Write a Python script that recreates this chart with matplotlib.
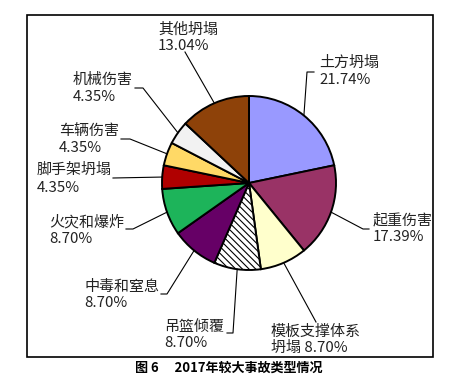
import matplotlib
matplotlib.use('Agg')
import matplotlib.pyplot as plt
import numpy as np
from matplotlib.patches import Rectangle
from matplotlib.lines import Line2D

plt.rcParams['font.family'] = ['Noto Sans CJK SC', 'DejaVu Sans']
plt.rcParams['hatch.linewidth'] = 0.8

# ---- data ----
categories = ['土方坍塌', '起重伤害', '模板支撑体系坍塌', '吊篮倾覆', '中毒和窒息',
              '火灾和爆炸', '脚手架坍塌', '车辆伤害', '机械伤害', '其他坍塌']
percentages = [21.74, 17.39, 8.70, 8.70, 8.70, 8.70, 4.35, 4.35, 4.35, 13.04]
line1_labels = ['土方坍塌', '起重伤害', '模板支撑体系', '吊篮倾覆', '中毒和窒息',
                '火灾和爆炸', '脚手架坍塌', '车辆伤害', '机械伤害', '其他坍塌']
line2_prefix = ['', '', '坍塌 ', '', '', '', '', '', '', '']
caption = '图 6\u3000 2017年较大事故类型情况'

colors = ['#9999FF', '#993366', '#FFFFCC', '#FFFFFF', '#660066',
          '#1DB45A', '#B00000', '#FFD966', '#F2F2F2', '#8E4209']
hatches = [None, None, None, '\\\\\\\\\\', None, None, None, None, None, None]

W, H = 463, 381
fig = plt.figure(figsize=(W / 100, H / 100), dpi=100)


def fx(x):
    return x / W


def fy(y):
    return 1 - y / H


# frame
fig.patches.append(Rectangle((fx(27), fy(357)), (433 - 27) / W, (357 - 15) / H,
                             transform=fig.transFigure, fill=False,
                             edgecolor='black', linewidth=1.2))

cx, cy, r = 249, 183, 87
ax = fig.add_axes([fx(cx - r), fy(cy + r), 2 * r / W, 2 * r / H])
wedges, _ = ax.pie(percentages, colors=colors, startangle=90, counterclock=False,
                   wedgeprops=dict(edgecolor='black', linewidth=1.4))
for w, h in zip(wedges, hatches):
    if h:
        w.set_hatch(h)
ax.set_xlim(-1, 1)
ax.set_ylim(-1, 1)
ax.axis('off')

# label layout: (x_left, y_line1, y_line2)
text_pos = [(319, 63, 80), (373, 220, 237), (271, 332, 348), (164, 327, 343),
            (84, 287, 303), (49, 222, 239), (37, 170, 188), (59, 132, 148),
            (73, 80, 97), (158, 30, 46)]
leader_pts = [[(314, 72), (307, 72)], [(369, 229), (363, 229)], [(316, 322)],
              [(227, 333), (233, 333)], [(161, 294), (167, 294)],
              [(126, 229), (133, 229)], [(113, 178)], [(121, 139), (130, 139)],
              [(135, 88), (143, 88)], [(185, 52)]]

fs = 10.8
for i, w in enumerate(wedges):
    mid = np.deg2rad((w.theta1 + w.theta2) / 2)
    ex, ey = cx + r * np.cos(mid), cy - r * np.sin(mid)
    pts = leader_pts[i] + [(ex, ey)]
    xs = [fx(p[0]) for p in pts]
    ys = [fy(p[1]) for p in pts]
    fig.lines.append(Line2D(xs, ys, transform=fig.transFigure, color='black',
                            linewidth=0.8))
    x0, y1, y2 = text_pos[i]
    fig.text(fx(x0), fy(y1), line1_labels[i], ha='left', va='center',
             fontsize=fs, color='#222222')
    fig.text(fx(x0), fy(y2), f'{line2_prefix[i]}{percentages[i]:.2f}%',
             ha='left', va='center', fontsize=fs, color='#222222')

fig.text(fx(229), fy(368), caption, ha='center', va='center', fontsize=9.4,
         fontweight='bold')

fig.savefig('out.png', dpi=100)
